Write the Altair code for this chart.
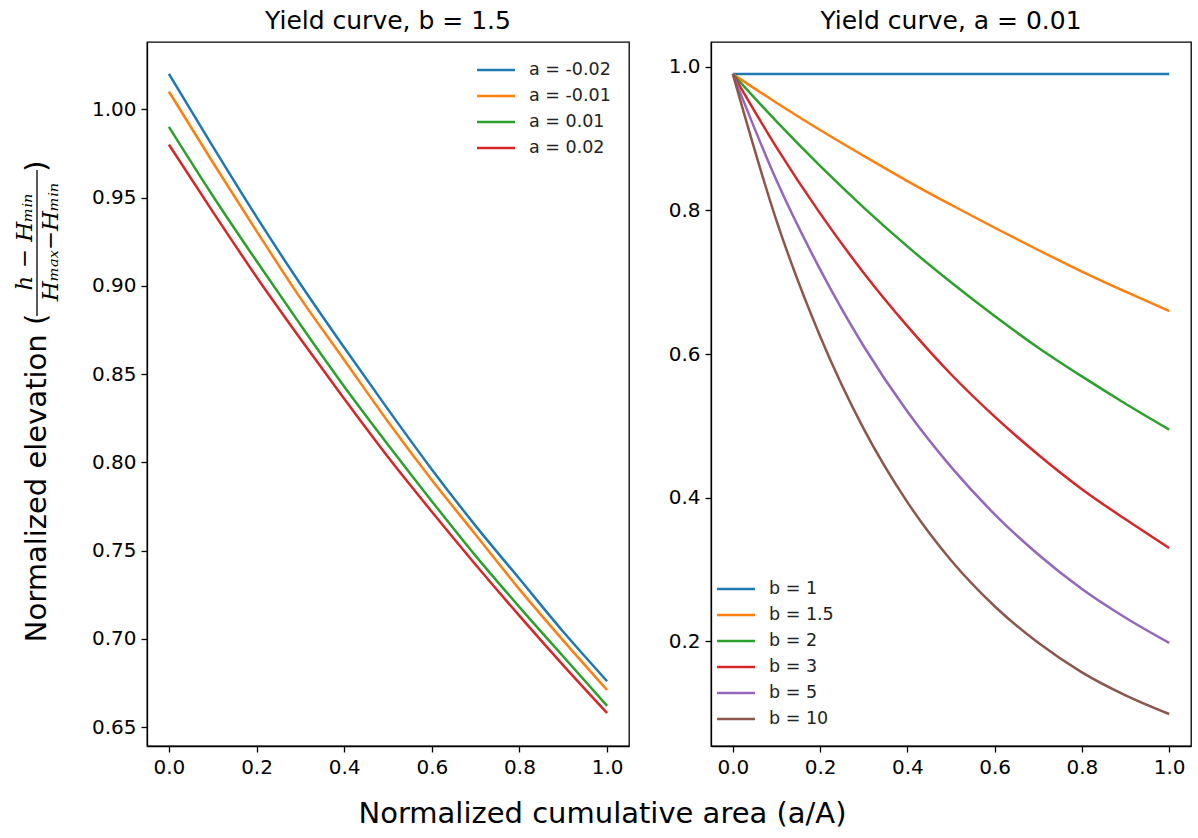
import altair as alt
import pandas as pd

x_vals = [0.0, 0.1, 0.2, 0.3, 0.4, 0.5, 0.6, 0.7, 0.8, 0.9, 1.0]

a_labels = ["a = -0.02", "a = -0.01", "a = 0.01", "a = 0.02"]
a_m002 = [1.020, 0.979, 0.939, 0.901, 0.865, 0.830, 0.796, 0.764, 0.734, 0.704, 0.676]
a_m001 = [1.010, 0.970, 0.931, 0.893, 0.858, 0.823, 0.790, 0.759, 0.728, 0.699, 0.671]
a_p001 = [0.990, 0.951, 0.914, 0.878, 0.843, 0.810, 0.778, 0.747, 0.718, 0.690, 0.662]
a_p002 = [0.980, 0.942, 0.905, 0.870, 0.836, 0.803, 0.772, 0.742, 0.713, 0.685, 0.658]

b_labels = ["b = 1", "b = 1.5", "b = 2", "b = 3", "b = 5", "b = 10"]
b_1 = [0.990, 0.990, 0.990, 0.990, 0.990, 0.990, 0.990, 0.990, 0.990, 0.990, 0.990]
b_15 = [0.990, 0.950, 0.912, 0.876, 0.841, 0.808, 0.776, 0.745, 0.715, 0.687, 0.660]
b_2 = [0.990, 0.924, 0.862, 0.804, 0.750, 0.700, 0.653, 0.609, 0.569, 0.531, 0.495]
b_3 = [0.990, 0.888, 0.796, 0.713, 0.639, 0.572, 0.513, 0.460, 0.412, 0.370, 0.330]
b_5 = [0.990, 0.842, 0.718, 0.611, 0.520, 0.443, 0.377, 0.321, 0.273, 0.233, 0.198]
b_10 = [0.990, 0.786, 0.625, 0.496, 0.394, 0.313, 0.249, 0.198, 0.157, 0.125, 0.099]

x_ticks = [0.0, 0.2, 0.4, 0.6, 0.8, 1.0]
left_y_ticks = [0.65, 0.70, 0.75, 0.80, 0.85, 0.90, 0.95, 1.00]
right_y_ticks = [0.2, 0.4, 0.6, 0.8, 1.0]

colors = ["#1f77b4", "#ff7f0e", "#2ca02c", "#d62728", "#9467bd", "#8c564b"]


def long_df(labels, series):
    rows = []
    for lab, ys in zip(labels, series):
        for xv, yv in zip(x_vals, ys):
            rows.append({"x": xv, "y": yv, "series": lab})
    return pd.DataFrame(rows)


left_df = long_df(a_labels, [a_m002, a_m001, a_p001, a_p002])
right_df = long_df(b_labels, [b_1, b_15, b_2, b_3, b_5, b_10])

FONT = "DejaVu Sans"
W = 482
H = 704


def legend(x, y):
    return alt.Legend(
        title=None, orient="none", legendX=x, legendY=y,
        symbolType="M-2,0L2,0", symbolSize=361, symbolStrokeWidth=2.5,
        labelFontSize=17.5, labelFont=FONT, labelColor="#222222",
        labelOffset=22, rowPadding=6,
    )


x_enc = alt.X("x:Q", scale=alt.Scale(domain=[-0.05, 1.05], nice=False, zero=False),
              axis=alt.Axis(values=x_ticks, format=".1f", title=None))

left_lines = alt.Chart(left_df).mark_line(strokeWidth=2.5, interpolate="monotone").encode(
    x=x_enc,
    y=alt.Y("y:Q", scale=alt.Scale(domain=[0.6393, 1.0381], nice=False, zero=False),
            axis=alt.Axis(values=left_y_ticks, format=".2f", title=None)),
    color=alt.Color("series:N", sort=a_labels,
                    scale=alt.Scale(domain=a_labels, range=colors[:4]),
                    legend=legend(338, 17)),
)

# y-axis title pieces (drawn as text, left of the left panel)
main_title = alt.Chart(pd.DataFrame({"t": ["Normalized elevation ("]})).mark_text(
    angle=270, align="center", baseline="alphabetic", font=FONT, fontSize=29, color="black"
).encode(x=alt.value(-101), y=alt.value(436), text="t:N")

numer = alt.Chart(pd.DataFrame({"t": ["h − Hₘᵢₙ"]})).mark_text(
    angle=270, align="center", baseline="alphabetic", font="DejaVu Serif", fontStyle="italic",
    fontSize=23, color="black"
).encode(x=alt.value(-115), y=alt.value(200), text="t:N")

denom = alt.Chart(pd.DataFrame({"t": ["Hₘₐₓ−Hₘᵢₙ"]})).mark_text(
    angle=270, align="center", baseline="alphabetic", font="DejaVu Serif", fontStyle="italic",
    fontSize=23, color="black"
).encode(x=alt.value(-89), y=alt.value(200), text="t:N")

close_paren = alt.Chart(pd.DataFrame({"t": [")"]})).mark_text(
    angle=270, align="center", baseline="alphabetic", font=FONT, fontSize=29, color="black"
).encode(x=alt.value(-101), y=alt.value(124), text="t:N")

frac_bar = alt.Chart(pd.DataFrame({"k": [0]})).mark_rule(color="black", strokeWidth=1.3).encode(
    x=alt.value(-110), y=alt.value(128), y2=alt.value(274)
)

left = alt.layer(left_lines, main_title, numer, denom, close_paren, frac_bar).properties(
    width=W, height=H,
    title=alt.TitleParams("Yield curve, b = 1.5", fontSize=25, font=FONT, fontWeight="normal",
                          anchor="middle", frame="group", offset=8, color="black"),
)

right = alt.Chart(right_df).mark_line(strokeWidth=2.5, interpolate="monotone").encode(
    x=x_enc,
    y=alt.Y("y:Q", scale=alt.Scale(domain=[0.0544, 1.0346], nice=False, zero=False),
            axis=alt.Axis(values=right_y_ticks, format=".1f", title=None)),
    color=alt.Color("series:N", sort=b_labels,
                    scale=alt.Scale(domain=b_labels, range=colors),
                    legend=legend(14, 536)),
).properties(
    width=480, height=H,
    title=alt.TitleParams("Yield curve, a = 0.01", fontSize=25, font=FONT, fontWeight="normal",
                          anchor="middle", frame="group", offset=8, color="black"),
)

chart = alt.hconcat(left, right, spacing=37).resolve_scale(color="independent").properties(
    title=alt.TitleParams("Normalized cumulative area (a/A)", orient="bottom", anchor="middle",
                          fontSize=29, font=FONT, fontWeight="normal", color="black", offset=22),
    padding={"left": 13, "top": 8, "right": 5, "bottom": 5},
).configure_view(
    stroke="black", strokeWidth=1.3
).configure_axis(
    domainColor="black", domainWidth=1.3, tickColor="black", tickWidth=1.3, tickSize=6,
    labelFont=FONT, labelFontSize=20, labelColor="black", labelPadding=5, grid=False,
)

chart.save("out.html", embed_options={"renderer": "svg", "actions": False})
